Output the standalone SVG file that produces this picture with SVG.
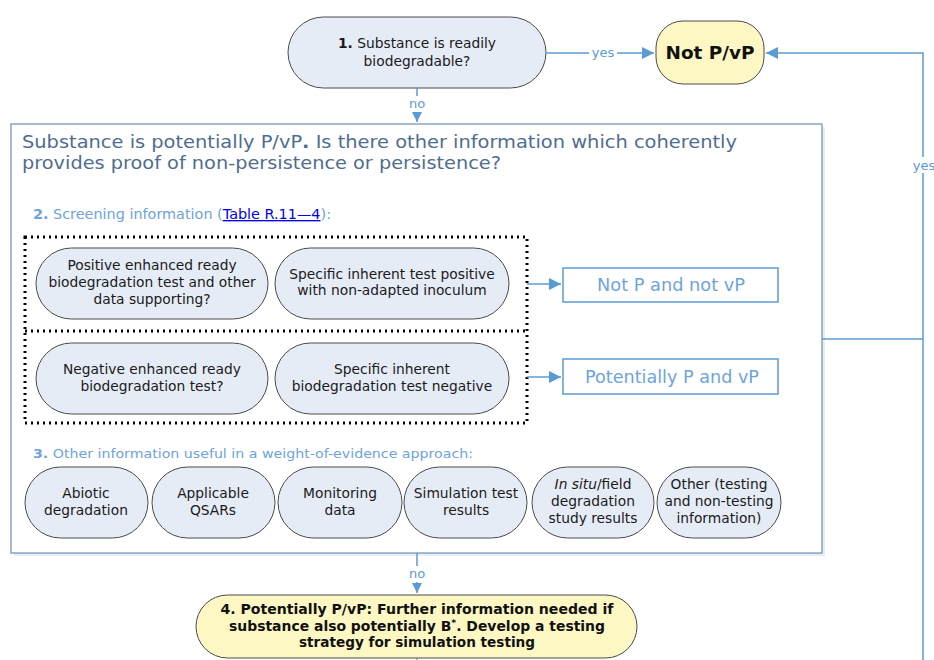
<svg xmlns="http://www.w3.org/2000/svg" width="934" height="660" viewBox="0 0 934 660">
  <defs>
    <marker id="arrow" viewBox="0 0 10 10" refX="10" refY="5" markerWidth="10" markerHeight="10" markerUnits="userSpaceOnUse" orient="auto">
      <path d="M0,0 L10,5 L0,10 z" fill="#5b9bd5"/>
    </marker>
    <marker id="arrowBig" viewBox="0 0 12 12" refX="12" refY="6" markerWidth="12" markerHeight="12" markerUnits="userSpaceOnUse" orient="auto">
      <path d="M0,0 L12,6 L0,12 z" fill="#5b9bd5"/>
    </marker>
  </defs>
  <style>
    text { font-family: "DejaVu Sans", Verdana, sans-serif; }
    .pill { fill: #e6ecf6; stroke: #4a4a4a; stroke-width: 1; }
    .pillY { fill: #fdf8c3; stroke: #4a4a4a; stroke-width: 1; }
    .lbl { font-size: 13.8px; fill: #1a1a1a; text-anchor: middle; }
    .conn { fill: none; stroke: #5b9bd5; stroke-width: 1.5; }
    .clbl { font-size: 13px; fill: #5b9bd5; text-anchor: middle; }
    .light { fill: #6ea3dc; }
    .outbox { fill: #ffffff; stroke: #5b9bd5; stroke-width: 1.5; }
    .dots { fill: none; stroke: #000; stroke-width: 3; stroke-dasharray: 2 4; }
  </style>
  <rect width="934" height="660" fill="#ffffff"/>

  <!-- main container box -->
  <g id="container">
    <rect x="14" y="127" width="811" height="429" fill="#e9edf2"/>
    <rect x="11" y="124" width="811" height="429" fill="#ffffff" stroke="#6a8fb8" stroke-width="1.2"/>
    <text x="22" y="148" font-size="17" fill="#4f6d8f" textLength="715" lengthAdjust="spacingAndGlyphs">Substance is potentially P/vP<tspan font-weight="bold">.</tspan> Is there other information which coherently</text>
    <text x="22" y="169" font-size="17" fill="#4f6d8f" textLength="479" lengthAdjust="spacingAndGlyphs">provides proof of non-persistence or persistence?</text>
    <text x="33" y="219" font-size="13.5" class="light" textLength="298" lengthAdjust="spacingAndGlyphs"><tspan font-weight="bold">2.</tspan> Screening information (<tspan fill="#0000ee" text-decoration="underline">Table R.11—4</tspan>):</text>
    <text x="33" y="458" font-size="13" class="light" textLength="440" lengthAdjust="spacingAndGlyphs"><tspan font-weight="bold">3.</tspan> Other information useful in a weight-of-evidence approach:</text>
  </g>

  <!-- screening groups (dotted) -->
  <g id="screening-frame">
    <rect class="dots" x="25" y="237" width="502" height="186"/>
    <line class="dots" x1="25" y1="331" x2="527" y2="331"/>
  </g>

  <g id="node1">
    <rect class="pill" x="288" y="17" width="258" height="71" rx="35.5"/>
    <text class="lbl" x="417" y="48"><tspan font-weight="bold">1.</tspan> Substance is readily</text>
    <text class="lbl" x="417" y="66">biodegradable?</text>
  </g>

  <g id="notPvP">
    <rect class="pillY" x="656" y="21" width="108" height="63" rx="27"/>
    <text x="710" y="59" font-size="18" font-weight="bold" fill="#111" text-anchor="middle" textLength="89" lengthAdjust="spacingAndGlyphs">Not P/vP</text>
  </g>

  <g id="pos-enhanced">
    <rect class="pill" x="36" y="248" width="232" height="71" rx="35.5"/>
    <text class="lbl" x="152" y="270">Positive enhanced ready</text>
    <text class="lbl" x="152" y="287">biodegradation test and other</text>
    <text class="lbl" x="152" y="304">data supporting?</text>
  </g>
  <g id="pos-inherent">
    <rect class="pill" x="275" y="248" width="234" height="71" rx="35.5"/>
    <text class="lbl" x="392" y="279">Specific inherent test positive</text>
    <text class="lbl" x="392" y="295">with non-adapted inoculum</text>
  </g>
  <g id="neg-enhanced">
    <rect class="pill" x="36" y="343" width="232" height="71" rx="35.5"/>
    <text class="lbl" x="152" y="374">Negative enhanced ready</text>
    <text class="lbl" x="152" y="391">biodegradation test?</text>
  </g>
  <g id="neg-inherent">
    <rect class="pill" x="275" y="343" width="234" height="71" rx="35.5"/>
    <text class="lbl" x="392" y="374">Specific inherent</text>
    <text class="lbl" x="392" y="391">biodegradation test negative</text>
  </g>

  <g id="notP">
    <rect class="outbox" x="563" y="268" width="215" height="34"/>
    <text x="671" y="291" font-size="17" class="light" text-anchor="middle" textLength="148" lengthAdjust="spacingAndGlyphs">Not P and not vP</text>
  </g>
  <g id="potP">
    <rect class="outbox" x="563" y="359" width="215" height="35"/>
    <text x="672" y="383" font-size="17" class="light" text-anchor="middle" textLength="174" lengthAdjust="spacingAndGlyphs">Potentially P and vP</text>
  </g>

  <g id="abiotic">
    <rect class="pill" x="25" y="467" width="123" height="71" rx="35.5"/>
    <text class="lbl" x="86" y="498">Abiotic</text>
    <text class="lbl" x="86" y="515">degradation</text>
  </g>
  <g id="qsars">
    <rect class="pill" x="152" y="467" width="123" height="71" rx="35.5"/>
    <text class="lbl" x="213" y="498">Applicable</text>
    <text class="lbl" x="213" y="515">QSARs</text>
  </g>
  <g id="monitoring">
    <rect class="pill" x="278" y="467" width="124" height="71" rx="35.5"/>
    <text class="lbl" x="340" y="498">Monitoring</text>
    <text class="lbl" x="340" y="515">data</text>
  </g>
  <g id="simulation">
    <rect class="pill" x="404" y="467" width="123" height="71" rx="35.5"/>
    <text class="lbl" x="466" y="498">Simulation test</text>
    <text class="lbl" x="466" y="515">results</text>
  </g>
  <g id="insitu">
    <rect class="pill" x="532" y="467" width="122" height="71" rx="35.5"/>
    <text class="lbl" x="593" y="489"><tspan font-style="italic">In situ</tspan>/field</text>
    <text class="lbl" x="593" y="506">degradation</text>
    <text class="lbl" x="593" y="523">study results</text>
  </g>
  <g id="other">
    <rect class="pill" x="657" y="467" width="124" height="71" rx="35.5"/>
    <text class="lbl" x="719" y="489">Other (testing</text>
    <text class="lbl" x="719" y="506">and non-testing</text>
    <text class="lbl" x="719" y="523">information)</text>
  </g>

  <g id="node4">
    <rect class="pillY" x="196" y="595" width="441" height="63" rx="31.5"/>
    <text x="417" y="614" font-size="13.5" font-weight="bold" fill="#111" text-anchor="middle" textLength="393" lengthAdjust="spacingAndGlyphs">4. Potentially P/vP: Further information needed if</text>
    <text x="417" y="631" font-size="13.5" font-weight="bold" fill="#111" text-anchor="middle" textLength="376" lengthAdjust="spacingAndGlyphs">substance also potentially B<tspan dy="-5" font-size="9">*</tspan><tspan dy="5">. Develop a testing</tspan></text>
    <text x="417" y="647" font-size="13.5" font-weight="bold" fill="#111" text-anchor="middle" textLength="236" lengthAdjust="spacingAndGlyphs">strategy for simulation testing</text>
  </g>

  <!-- connectors -->
  <g id="connectors">
    <path class="conn" d="M546,53 H589 M617,53 H654" marker-end="url(#arrowBig)"/>
    <text class="clbl" x="603" y="57">yes</text>
    <path class="conn" d="M417,88 V96 M417,113 V122" marker-end="url(#arrow)"/>
    <text class="clbl" x="417" y="108">no</text>
    <path class="conn" d="M527,284 H561" marker-end="url(#arrowBig)"/>
    <path class="conn" d="M527,377 H561" marker-end="url(#arrowBig)"/>
    <path class="conn" d="M822,339 H923"/>
    <path class="conn" d="M923,660 V173 M923,157 V53 H766" marker-end="url(#arrowBig)"/>
    <text class="clbl" x="924" y="170">yes</text>
    <path class="conn" d="M417,553 V566 M417,582 V593" marker-end="url(#arrow)"/>
    <text class="clbl" x="417" y="578">no</text>
    <path class="conn" d="M417,658 V660"/>
  </g>
</svg>
